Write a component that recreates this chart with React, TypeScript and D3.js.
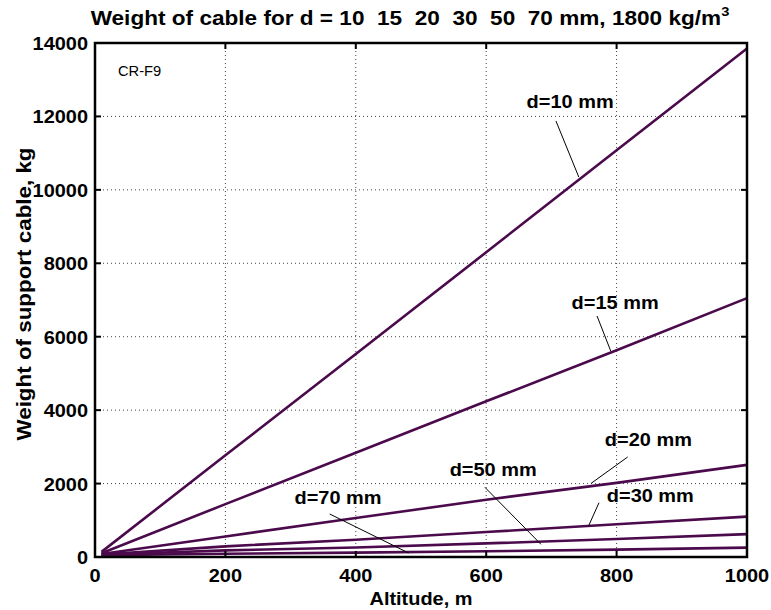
import React from "react";
import * as d3 from "d3";

const altitudes = [10, 200, 400, 600, 800, 1000];
const d10 = [140, 2770, 5530, 8300, 11080, 13850];
const d15 = [100, 1440, 2840, 4240, 5630, 7050];
const d20 = [80, 560, 1060, 1560, 2020, 2510];
const d30 = [70, 290, 470, 680, 890, 1100];
const d50 = [60, 180, 260, 370, 490, 622];
const d70 = [50, 90, 118, 155, 200, 255];
const seriesList = [d10, d15, d20, d30, d50, d70];

const xTicks = [0, 200, 400, 600, 800, 1000];
const yTicks = [0, 2000, 4000, 6000, 8000, 10000, 12000, 14000];

// label text, label anchor (data coords), pointer start/end (data coords)
const labels = [
  { text: "d=10 mm", lx: 662, ly: 12230, p0: [707, 11875], p1: [742, 10350] },
  { text: "d=15 mm", lx: 731, ly: 6755, p0: [770, 6564], p1: [791, 5611] },
  { text: "d=20 mm", lx: 782, ly: 3032, p0: [817, 2724], p1: [761, 2007] },
  { text: "d=50 mm", lx: 544, ly: 2206, p0: [598, 1898], p1: [684, 346] },
  { text: "d=30 mm", lx: 785, ly: 1506, p0: [773, 1479], p1: [757, 844] },
  { text: "d=70 mm", lx: 306, ly: 1435, p0: [360, 1171], p1: [481, 109] },
];

const W = 771;
const H = 610;
const FONT = "'Liberation Sans', Arial, Helvetica, sans-serif";
const LINE = "#4b0a4b";
const SX = 1.05;

function SText({ x, y, children, anchor = "start", size = 19, weight = "bold", rotate = 0, sx = SX }: any) {
  return (
    <g transform={`translate(${x},${y}) rotate(${rotate}) scale(${sx},1)`}>
      <text x={0} y={0} textAnchor={anchor} fontSize={size} fontWeight={weight} fontFamily={FONT} fill="#000">
        {children}
      </text>
    </g>
  );
}

export default function App() {
  const x = d3.scaleLinear().domain([0, 1000]).range([95, 747]);
  const y = d3.scaleLinear().domain([0, 14000]).range([557, 43]);
  const line = d3
    .line<number>()
    .x((_, i) => x(altitudes[i]))
    .y((v) => y(v));

  const [x0, x1] = x.range();
  const [y0, y1] = y.range();

  return (
    <svg width={W} height={H} style={{ position: "absolute", left: 0, top: 0, background: "#fff" }}>
      <rect x={0} y={0} width={W} height={H} fill="#fff" />
      {/* grid */}
      {xTicks.slice(1, -1).map((t) => (
        <line key={"gx" + t} x1={x(t)} x2={x(t)} y1={y1} y2={y0} stroke="#444" strokeWidth={1} strokeDasharray="1,3" />
      ))}
      {yTicks.slice(1, -1).map((t) => (
        <line key={"gy" + t} x1={x0} x2={x1} y1={y(t)} y2={y(t)} stroke="#444" strokeWidth={1} strokeDasharray="1,3" />
      ))}
      {/* series */}
      {seriesList.map((s, i) => (
        <path key={"s" + i} d={line(s) || ""} fill="none" stroke={LINE} strokeWidth={2.6} />
      ))}
      {/* pointers */}
      {labels.map((l) => (
        <line key={"p" + l.text} x1={x(l.p0[0])} y1={y(l.p0[1])} x2={x(l.p1[0])} y2={y(l.p1[1])} stroke="#000" strokeWidth={1} />
      ))}
      {labels.map((l) => (
        <SText key={"l" + l.text} x={x(l.lx)} y={y(l.ly)}>
          {l.text}
        </SText>
      ))}
      {/* ticks */}
      {xTicks.map((t) => (
        <g key={"tx" + t}>
          <line x1={x(t)} x2={x(t)} y1={y0} y2={y0 - 6} stroke="#000" strokeWidth={2} />
          <line x1={x(t)} x2={x(t)} y1={y1} y2={y1 + 6} stroke="#000" strokeWidth={2} />
          <SText x={x(t)} y={582} anchor="middle">
            {String(t)}
          </SText>
        </g>
      ))}
      {yTicks.map((t) => (
        <g key={"ty" + t}>
          <line x1={x0} x2={x0 + 6} y1={y(t)} y2={y(t)} stroke="#000" strokeWidth={2} />
          <line x1={x1} x2={x1 - 6} y1={y(t)} y2={y(t)} stroke="#000" strokeWidth={2} />
          <SText x={88} y={y(t) + 7} anchor="end">
            {String(t)}
          </SText>
        </g>
      ))}
      {/* frame */}
      <rect x={x0} y={y1} width={x1 - x0} height={y0 - y1} fill="none" stroke="#000" strokeWidth={2.5} />
      <SText x={118} y={76} size={14} weight="normal" sx={1.05}>
        CR-F9
      </SText>
      {/* axis labels */}
      <SText x={(x0 + x1) / 2} y={605} anchor="middle">
        Altitude, m
      </SText>
      <SText x={31} y={294} anchor="middle" rotate={-90} size={20} sx={1.12}>
        Weight of support cable, kg
      </SText>
      {/* title */}
      <g transform={`translate(${410},25) scale(1.13,1)`}>
        <text x={0} y={0} textAnchor="middle" fontSize={20} fontWeight="bold" fontFamily={FONT}>
          Weight of cable for d = 10{"\u00a0\u00a0"}15{"\u00a0\u00a0"}20{"\u00a0\u00a0"}30{"\u00a0\u00a0"}50{"\u00a0\u00a0"}70 mm, 1800 kg/m
          <tspan fontSize={13} dy={-9}>
            3
          </tspan>
        </text>
      </g>
    </svg>
  );
}
